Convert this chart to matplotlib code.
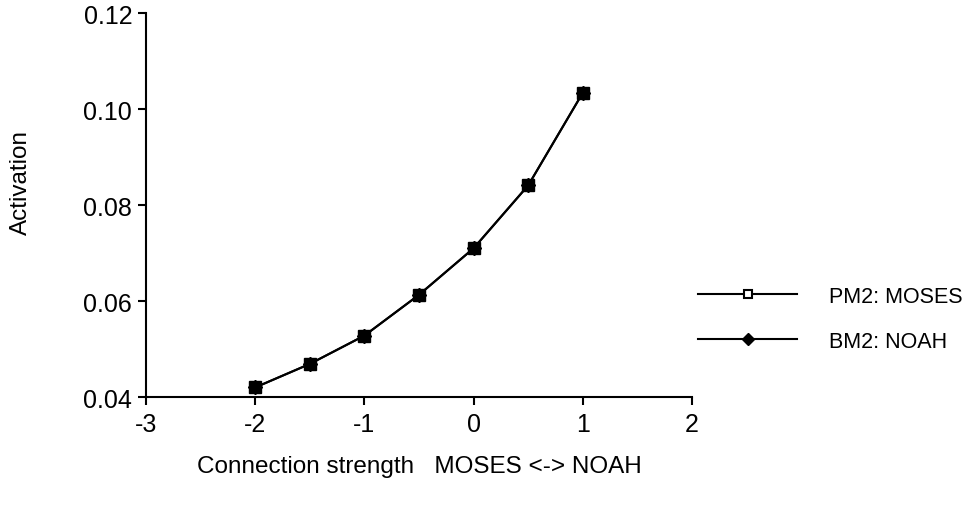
import matplotlib
matplotlib.use("Agg")
import matplotlib.pyplot as plt
from matplotlib.lines import Line2D

plt.rcParams['font.family'] = ['Liberation Sans', 'DejaVu Sans']

# Connection strength values and resulting activation
strength = [-2.0, -1.5, -1.0, -0.5, 0.0, 0.5, 1.0]
pm2_moses = [0.0420, 0.0469, 0.0528, 0.0613, 0.0710, 0.0841, 0.1034]
bm2_noah = [0.0420, 0.0469, 0.0528, 0.0613, 0.0710, 0.0841, 0.1034]

x_ticks = [-3, -2, -1, 0, 1, 2]
y_ticks = [0.04, 0.06, 0.08, 0.10, 0.12]
series_labels = ["PM2: MOSES", "BM2: NOAH"]

FS = 17.5
LEG_FS = 15.5

fig = plt.figure(figsize=(9.74, 5.06), dpi=100)
ax = fig.add_axes([0.150, 0.2134, 0.5605, 0.7589])

ax.plot(strength, bm2_noah, color='black', lw=1.5, marker='D', ms=7.5,
        mfc='black', mec='black', zorder=3)
ax.plot(strength, pm2_moses, color='black', lw=1.5, marker='s', ms=9,
        mfc='black', mec='black', zorder=4)

ax.set_xlim(-3, 2)
ax.set_ylim(0.04, 0.12)
ax.set_xticks(x_ticks)
ax.set_xticklabels([str(v) for v in x_ticks])
ax.set_yticks(y_ticks)
ax.set_yticklabels([f"{v:.2f}" for v in y_ticks])

for side in ('top', 'right'):
    ax.spines[side].set_visible(False)
for side in ('left', 'bottom'):
    ax.spines[side].set_linewidth(1.5)
ax.tick_params(direction='out', length=6, width=1.5, labelsize=18, pad=4)
ax.tick_params(axis='x', pad=5)

ax.set_xlabel("Connection strength   MOSES <-> NOAH", fontsize=FS)
ax.xaxis.set_label_coords(0.5, -0.15)
ax.set_ylabel("Activation", fontsize=FS)
ax.yaxis.set_label_coords(-0.209, 0.561)

handles = [
    Line2D([0], [0], color='black', lw=1.5, marker='s', ms=6,
           mfc='white', mec='black', mew=1.5),
    Line2D([0], [0], color='black', lw=1.5, marker='D', ms=6.5,
           mfc='black', mec='black'),
]
fig.legend(handles, series_labels, loc='upper left',
           bbox_to_anchor=(698 / 974, 1 - 287 / 506), frameon=False,
           fontsize=LEG_FS, borderpad=0, borderaxespad=0,
           handlelength=4.6, handletextpad=1.5, labelspacing=1.1)

fig.savefig("out.png", dpi=100)
